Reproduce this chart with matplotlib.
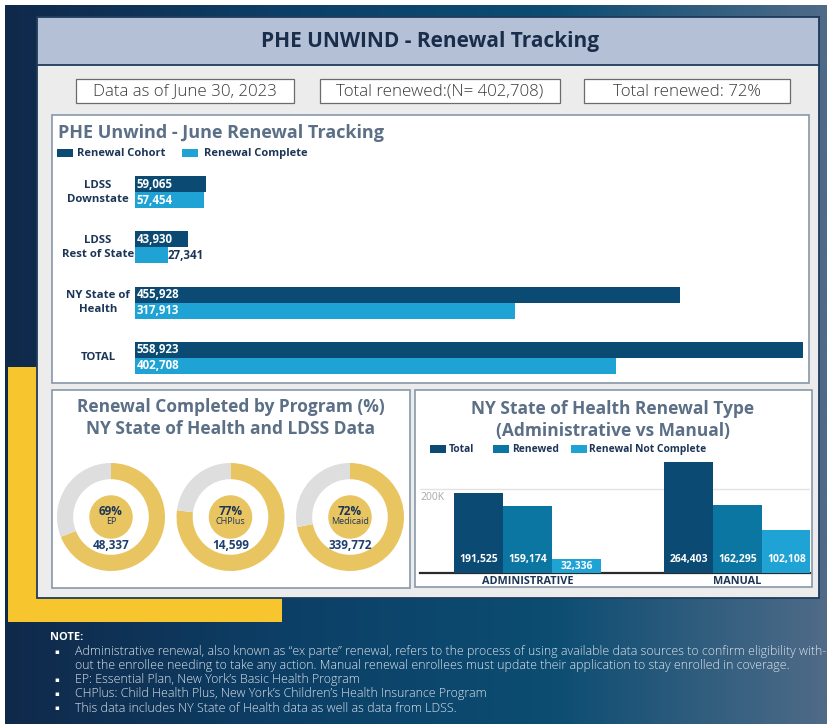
import matplotlib
matplotlib.use('Agg')
import matplotlib.pyplot as plt
import numpy as np
from matplotlib.patches import Rectangle, Circle
import matplotlib.transforms as mtransforms
from matplotlib.colors import LinearSegmentedColormap

# ---------------- data ----------------
header_title = "PHE UNWIND - Renewal Tracking"
info_boxes = ["Data as of June 30, 2023", "Total renewed:(N= 402,708)", "Total renewed: 72%"]

hbar_title = "PHE Unwind - June Renewal Tracking"
hbar_series = ["Renewal Cohort", "Renewal Complete"]
hbar_categories = ["LDSS\nDownstate", "LDSS\nRest of State", "NY State of\nHealth", "TOTAL"]
renewal_cohort = [59065, 43930, 455928, 558923]
renewal_complete = [57454, 27341, 317913, 402708]

donut_title = "Renewal Completed by Program (%)\nNY State of Health and LDSS Data"
programs = ["EP", "CHPlus", "Medicaid"]
program_pct = [69, 77, 72]
program_renewed = [48337, 14599, 339772]

vbar_title = "NY State of Health Renewal Type\n(Administrative vs Manual)"
vbar_series = ["Total", "Renewed", "Renewal Not Complete"]
renewal_types = ["ADMINISTRATIVE", "MANUAL"]
type_total = [191525, 264403]
type_renewed = [159174, 162295]
type_not_complete = [32336, 102108]
vbar_ticks = [200000]
vbar_tick_labels = ["200K"]

note_title = "NOTE:"
notes = [
    "Administrative renewal, also known as \u201cex parte\u201d renewal, refers to the process of using available data sources to confirm eligibility with-\nout the enrollee needing to take any action. Manual renewal enrollees must update their application to stay enrolled in coverage.",
    "EP: Essential Plan, New York\u2019s Basic Health Program",
    "CHPlus: Child Health Plus, New York\u2019s Children\u2019s Health Insurance Program",
    "This data includes NY State of Health data as well as data from LDSS.",
]

# ---------------- style ----------------
W, H = 828, 724
plt.rcParams['font.family'] = ['Open Sans', 'DejaVu Sans']
NAVY_TXT = '#1c3557'
TITLE_GRAY = '#5b6f86'
C_DARK = '#0b4b73'
C_LIGHT = '#1fa3d4'
C_MID = '#0b76a2'
YELLOW = '#e9c562'
RING_GRAY = '#dedede'

fig = plt.figure(figsize=(W / 100, H / 100), dpi=100)


def px_axes(x0, y0, x1, y1, **kw):
    return fig.add_axes([x0 / W, 1 - y1 / H, (x1 - x0) / W, (y1 - y0) / H], **kw)


bg = px_axes(0, 0, W, H)
bg.axis('off')
bg.set_zorder(0)

# gradient background
cmap = LinearSegmentedColormap.from_list('bgc', ['#10294a', '#0d3f66', '#0c4d72', '#4f6b88'])
grad = np.linspace(0, 1, 512)[None, :]
bg.imshow(grad, extent=[5, W, H, 5], aspect='auto', cmap=cmap, zorder=0)
bg.set_xlim(0, W)
bg.set_ylim(H, 0)

# yellow block
bg.add_patch(Rectangle((8, 367), 274, 255, fc='#f7c52e', ec='none', zorder=1))
# main panel
bg.add_patch(Rectangle((37, 17), 782, 581, fc='#ececec', ec='#1f3c5c', lw=1.3, zorder=2))
bg.add_patch(Rectangle((37, 17), 782, 48, fc='#b3c0d6', ec='#1f3c5c', lw=1.3, zorder=3))
bg.text(430, 41, header_title, ha='center', va='center', fontsize=15, fontweight='bold',
        color='#1a2e4c', zorder=4)

# info boxes
for (x0, x1), txt in zip([(76, 294), (320, 560), (584, 790)], info_boxes):
    bg.add_patch(Rectangle((x0, 79), x1 - x0, 24, fc='white', ec='#6b6b6b', lw=0.9, zorder=3))
    bg.text((x0 + x1) / 2, 91.5, txt, ha='center', va='center', fontsize=12.2, color='#3a3a3a',
            fontweight='light', zorder=4)

# sub panels
bg.add_patch(Rectangle((52, 115), 757, 268, fc='white', ec='#8797aa', lw=1.2, zorder=3))
bg.add_patch(Rectangle((52, 390), 358, 198, fc='white', ec='#8797aa', lw=1.2, zorder=3))
bg.add_patch(Rectangle((415, 390), 397, 197, fc='white', ec='#8797aa', lw=1.2, zorder=3))

# ---------------- horizontal bar chart ----------------
bg.text(58, 133, hbar_title, ha='left', va='center', fontsize=13, fontweight='bold',
        color=TITLE_GRAY, zorder=4)
for (sx, tx), lab, col in zip([(57, 77), (182, 204)], hbar_series, [C_DARK, C_LIGHT]):
    bg.add_patch(Rectangle((sx, 149), 16, 8, fc=col, ec='none', zorder=4))
    bg.text(tx, 153.5, lab, ha='left', va='center', fontsize=8, fontweight='bold',
            color=NAVY_TXT, zorder=4)

axh = px_axes(135, 170, 803, 380)
axh.set_zorder(5)
axh.patch.set_alpha(0)
idx = np.arange(len(hbar_categories))
bh = 0.29
axh.barh(idx - bh / 2, renewal_cohort, height=bh, color=C_DARK)
axh.barh(idx + bh / 2, renewal_complete, height=bh, color=C_LIGHT)
axh.set_xlim(0, max(renewal_cohort))
axh.set_ylim(3.4, -0.4)
axh.axis('off')
xmax = max(renewal_cohort)
for i in idx:
    for val, yy in [(renewal_cohort[i], i - bh / 2), (renewal_complete[i], i + bh / 2)]:
        if val / xmax < 0.07:
            axh.annotate(f"{val:,}", xy=(val, yy), xytext=(0, 0), textcoords='offset pixels',
                         ha='left', va='center', fontsize=8.3, fontweight='bold', color=NAVY_TXT)
        else:
            axh.annotate(f"{val:,}", xy=(0, yy), xytext=(2, 0), textcoords='offset pixels',
                         ha='left', va='center', fontsize=8.3, fontweight='bold', color='white')
tr = mtransforms.blended_transform_factory(fig.transFigure, axh.transData)
for i, lab in zip(idx, hbar_categories):
    axh.text(98 / W, i, lab, transform=tr, ha='center', va='center', fontsize=8.2,
             fontweight='bold', color=NAVY_TXT, linespacing=1.35)

# ---------------- donuts ----------------
bg.text(231, 418, donut_title, ha='center', va='center', fontsize=12.5, fontweight='bold',
        color=TITLE_GRAY, linespacing=1.25, zorder=4)
R = 54
for k, (prog, pct, val) in enumerate(zip(programs, program_pct, program_renewed)):
    cx = 111 + k * 119.5
    cy = 517
    ax = px_axes(cx - R, cy - R, cx + R, cy + R)
    ax.set_zorder(5)
    ax.pie([pct, 100 - pct], colors=[YELLOW, RING_GRAY], startangle=90, counterclock=False,
           radius=1, wedgeprops=dict(width=0.3, edgecolor='none'))
    ax.add_patch(Circle((0, 0), 0.39, color=YELLOW))
    ax.text(0, 0.10, f"{pct}%", ha='center', va='center', fontsize=8.5, fontweight='bold',
            color=NAVY_TXT)
    ax.text(0, -0.08, prog, ha='center', va='center', fontsize=6.5, color=NAVY_TXT)
    ax.text(0, -0.52, f"{val:,}", ha='center', va='center', fontsize=8.5, fontweight='bold',
            color='#1d3e6e')
    ax.set_xlim(-1, 1)
    ax.set_ylim(-1, 1)

# ---------------- vertical bar chart ----------------
bg.text(613, 420, vbar_title, ha='center', va='center', fontsize=12.5, fontweight='bold',
        color=TITLE_GRAY, linespacing=1.25, zorder=4)
for (sx, tx), lab, col in zip([(430, 449), (493, 512), (571, 589)], vbar_series,
                              [C_DARK, C_MID, C_LIGHT]):
    bg.add_patch(Rectangle((sx, 445), 16, 8, fc=col, ec='none', zorder=4))
    bg.text(tx, 449.5, lab, ha='left', va='center', fontsize=7.4, fontweight='bold',
            color=NAVY_TXT, zorder=4)

axv = px_axes(420, 440, 810, 573)
axv.set_zorder(5)
axv.patch.set_alpha(0)
gx = np.arange(len(renewal_types))
bw = 49 / 210
ymax = 316667
series = [type_total, type_renewed, type_not_complete]
cols = [C_DARK, C_MID, C_LIGHT]
for j, (vals, col) in enumerate(zip(series, cols)):
    xs = gx + (j - 1) * bw
    axv.bar(xs, vals, width=bw, color=col, zorder=3)
    for x, v in zip(xs, vals):
        axv.text(x, min(v / 2, 0.105 * ymax), f"{v:,}", ha='center', va='center',
                 fontsize=7.5, fontweight='bold', color='white', zorder=4)
axv.set_xlim(-0.512, -0.512 + 390 / 210)
axv.set_ylim(0, ymax)
axv.set_yticks(vbar_ticks)
axv.set_yticklabels([])
axv.yaxis.grid(True, color='#e3e3e3', lw=1)
axv.set_axisbelow(True)
axv.tick_params(axis='y', length=0)
trv = mtransforms.blended_transform_factory(axv.transAxes, axv.transData)
for t, lab in zip(vbar_ticks, vbar_tick_labels):
    axv.annotate(lab, xy=(0, t), xycoords=trv, xytext=(0, -3), textcoords='offset pixels',
                 ha='left', va='top', fontsize=7.5, color='#a8a8a8')
axv.set_xticks(gx)
axv.set_xticklabels(renewal_types, fontsize=7.8, fontweight='bold', color=NAVY_TXT)
axv.tick_params(axis='x', length=0, pad=2)
for s in ['top', 'right', 'left']:
    axv.spines[s].set_visible(False)
axv.spines['bottom'].set_color('#2a2a2a')
axv.spines['bottom'].set_linewidth(1.6)

# ---------------- notes ----------------
bg.text(50, 637, note_title, ha='left', va='center', fontsize=8, fontweight='bold',
        color='white', zorder=4)
y = 652
for n in notes:
    lines = n.split('\n')
    bg.text(54, y, '\u25aa', ha='left', va='center', fontsize=5, color='white', zorder=4)
    for ln in lines:
        bg.text(75, y, ln, ha='left', va='center', fontsize=8.9, color='#dde4ec',
                fontweight='light', zorder=4)
        y += 14

fig.savefig('out.png', dpi=100)
